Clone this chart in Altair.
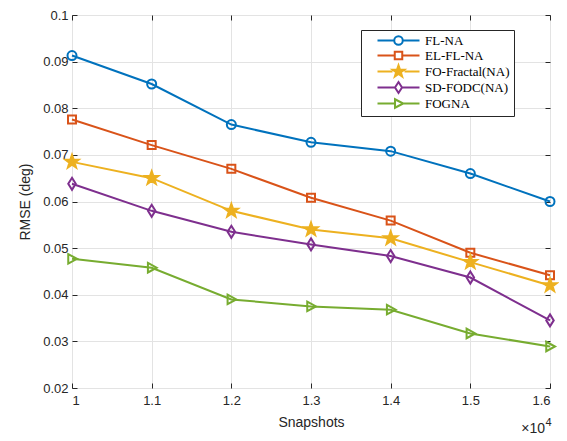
import altair as alt
import pandas as pd

snapshots = [1.0, 1.1, 1.2, 1.3, 1.4, 1.5, 1.6]  # x 10^4
series_names = ["FL-NA", "EL-FL-NA", "FO-Fractal(NA)", "SD-FODC(NA)", "FOGNA"]
fl_na = [0.0913, 0.0852, 0.0765, 0.0727, 0.0708, 0.0660, 0.0600]
el_fl_na = [0.0776, 0.0721, 0.0670, 0.0608, 0.0559, 0.0490, 0.0442]
fo_fractal = [0.0685, 0.0650, 0.0580, 0.0540, 0.0521, 0.0470, 0.0420]
sd_fodc = [0.0638, 0.0580, 0.0535, 0.0508, 0.0483, 0.0437, 0.0345]
fogna = [0.0477, 0.0458, 0.0390, 0.0375, 0.0368, 0.0317, 0.0289]
x_ticks = [1.0, 1.1, 1.2, 1.3, 1.4, 1.5, 1.6]
y_ticks = [0.02, 0.03, 0.04, 0.05, 0.06, 0.07, 0.08, 0.09, 0.1]

colors = ["#0072BD", "#D95319", "#EDB120", "#7E2F8E", "#77AC30"]
fills = ["transparent", "transparent", "#EDB120", "transparent", "transparent"]


def star_path(R, r):
    import math
    pts = []
    for k in range(10):
        ang = math.radians(-90 + 36 * k)
        rad = R if k % 2 == 0 else r
        pts.append(f"{rad * math.cos(ang):.4f},{rad * math.sin(ang):.4f}")
    return "M" + "L".join(pts) + "Z"


def circle_path(r):
    return f"M-{r},0A{r},{r},0,1,1,{r},0A{r},{r},0,1,1,-{r},0Z"


# plot marker paths (unit = sqrt(size)/2 px)
markers = [
    circle_path(0.9),
    "M-0.8,-0.8L0.8,-0.8L0.8,0.8L-0.8,0.8Z",
    star_path(1.4, 0.56),
    "M0,-1.2L0.75,0L0,1.2L-0.75,0Z",
    "M-0.75,-0.95L1.0,0L-0.75,0.95Z",
]
# legend markers, slightly more compact, with the line through
leg_markers = [
    (circle_path(0.85), 0.85, 0.85),
    ("M-0.75,-0.75L0.75,-0.75L0.75,0.75L-0.75,0.75Z", 0.75, 0.75),
    (star_path(1.25, 0.5), 1.2, 1.2),
    ("M0,-1.1L0.7,0L0,1.1L-0.7,0Z", 0.7, 0.7),
    ("M-0.7,-0.85L0.95,0L-0.7,0.85Z", 0.7, 0.95),
]
legend_paths = [f"M-4.2,0L-{a},0M{b},0L4.2,0" + m for m, a, b in leg_markers]

rows = []
for name, vals in zip(series_names, [fl_na, el_fl_na, fo_fractal, sd_fodc, fogna]):
    for xv, yv in zip(snapshots, vals):
        rows.append({"series": name, "snap": xv, "rmse": yv})
df = pd.DataFrame(rows)

xs = alt.Scale(domain=[1.0, 1.6], nice=False, zero=False)
ys = alt.Scale(domain=[0.02, 0.1], nice=False, zero=False)

axis_common = dict(
    domain=False, tickColor="#262626", tickSize=5, offset=-5,
    labelColor="#262626", labelFont="Liberation Sans", labelFontSize=13,
    titleColor="#262626", titleFont="Liberation Sans", titleFontSize=14,
    titleFontWeight="normal", gridColor="#e3e3e3", gridWidth=1,
)

base = alt.Chart(df)

axes_layer = base.mark_point(opacity=0).encode(
    x=alt.X("snap:Q", scale=xs, axis=alt.Axis(
        values=x_ticks, format=".1~f", title="Snapshots", grid=True,
        labelPadding=6, titlePadding=8, **axis_common)),
    y=alt.Y("rmse:Q", scale=ys, axis=alt.Axis(
        values=y_ticks, format=".2~f", title="RMSE (deg)", grid=True,
        labelPadding=4, titlePadding=10, **axis_common)),
)

tr_common = dict(axis_common)
tr_common.update(labels=False, grid=False)
tr_layer = base.mark_point(opacity=0).encode(
    x=alt.X("snap:Q", scale=xs, axis=alt.Axis(values=x_ticks, orient="top", title=None, **tr_common)),
    y=alt.Y("rmse:Q", scale=ys, axis=alt.Axis(values=y_ticks, orient="right", title=None, **tr_common)),
)

layers = []
for name, col, fil, mk in zip(series_names, colors, fills, markers):
    sub = base.transform_filter(alt.datum.series == name)
    line = sub.mark_line(color=col, strokeWidth=2).encode(
        x=alt.X("snap:Q", scale=xs, axis=None),
        y=alt.Y("rmse:Q", scale=ys, axis=None),
    )
    pts = sub.mark_point(filled=False, stroke=col, fill=fil, strokeWidth=2, size=100,
                         shape=mk, opacity=1).encode(
        x=alt.X("snap:Q", scale=xs, axis=None),
        y=alt.Y("rmse:Q", scale=ys, axis=None),
    )
    layers += [line, pts]

lexpr = "datum.label + '\u00a0\u00a0\u00a0'"
legend_layer = base.transform_filter("false").mark_point(
    filled=False, strokeWidth=2, size=100, opacity=1
).encode(
    x=alt.X("snap:Q", scale=xs, axis=None),
    y=alt.Y("rmse:Q", scale=ys, axis=None),
    stroke=alt.Stroke("series:N", scale=alt.Scale(domain=series_names, range=colors),
                      legend=alt.Legend(title=None, labelExpr=lexpr)),
    fill=alt.Fill("series:N", scale=alt.Scale(domain=series_names, range=fills),
                  legend=alt.Legend(title=None, labelExpr=lexpr)),
    shape=alt.Shape("series:N", scale=alt.Scale(domain=series_names, range=legend_paths),
                    legend=alt.Legend(title=None, labelExpr=lexpr)),
)

times_text = alt.Chart(pd.DataFrame({"t": ["×10"]})).mark_text(
    align="right", baseline="middle", font="Liberation Sans", fontSize=14, color="#262626"
).encode(text="t:N", x=alt.value(473), y=alt.value(414))
sup4 = alt.Chart(pd.DataFrame({"t": ["4"]})).mark_text(
    align="left", baseline="middle", font="Liberation Sans", fontSize=11, color="#262626"
).encode(text="t:N", x=alt.value(473.5), y=alt.value(408))

chart = alt.layer(axes_layer, tr_layer, *layers, legend_layer, times_text, sup4).resolve_axis(
    x="independent", y="independent"
).resolve_scale(x="shared", y="shared").properties(
    width=478, height=373,
    padding={"left": 64, "top": 7, "right": 9, "bottom": 50},
    autosize=alt.AutoSizeParams(type="none"),
    background="white",
).configure_view(stroke="#262626", strokeWidth=1).configure_legend(
    orient="none", legendX=289, legendY=15,
    strokeColor="#262626", fillColor="white", padding=4,
    labelFont="Liberation Serif", labelFontSize=13, labelColor="black",
    symbolStrokeWidth=2, symbolSize=100, symbolOffset=27, labelOffset=20,
    rowPadding=-3,
)

chart.save("out.html", embed_options={"renderer": "svg", "actions": False})
